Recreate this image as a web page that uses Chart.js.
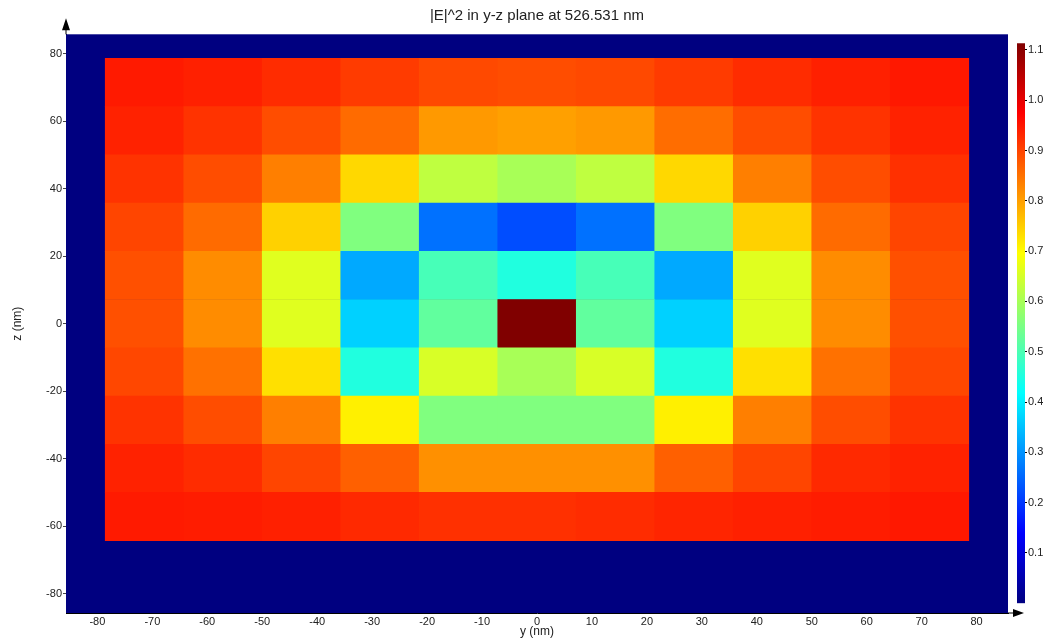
<!DOCTYPE html>
<html>
<head>
<meta charset="utf-8">
<script src="https://cdn.jsdelivr.net/npm/chart.js@4.4.1/dist/chart.umd.min.js"></script>
<style>
  html, body { margin: 0; padding: 0; background: #fff; overflow: hidden; }
  #wrap { position: relative; width: 1043px; height: 644px; overflow: hidden; }
  #map { position: absolute; left: 0; top: 0; }
  #bar { position: absolute; left: 1000px; top: 0; }
</style>
</head>
<body>
<div id="wrap">
  <canvas id="map" width="1043" height="644"></canvas>
  <canvas id="bar" width="100" height="644"></canvas>
</div>
<script>
// centres des cellules (nm)
const yCells = [-71.43, -57.14, -42.86, -28.57, -14.29, 0, 14.29, 28.57, 42.86, 57.14, 71.43];
const zCells = [71.43, 57.14, 42.86, 28.57, 14.29, 0, -14.29, -28.57, -42.86, -57.14];

// |E|^2, une ligne par rangée z (de haut en bas)
const intensity = [
    [0.946, 0.939, 0.926, 0.910, 0.894, 0.890, 0.894, 0.910, 0.926, 0.939, 0.948],
    [0.937, 0.918, 0.890, 0.857, 0.807, 0.799, 0.807, 0.855, 0.890, 0.918, 0.937],
    [0.918, 0.890, 0.835, 0.738, 0.626, 0.601, 0.626, 0.738, 0.835, 0.890, 0.922],
    [0.899, 0.857, 0.746, 0.557, 0.262, 0.223, 0.262, 0.557, 0.746, 0.857, 0.899],
    [0.887, 0.821, 0.662, 0.323, 0.495, 0.452, 0.495, 0.323, 0.662, 0.821, 0.887],
    [0.887, 0.821, 0.662, 0.367, 0.523, 1.113, 0.523, 0.367, 0.662, 0.821, 0.887],
    [0.896, 0.851, 0.729, 0.452, 0.653, 0.601, 0.653, 0.452, 0.729, 0.851, 0.896],
    [0.918, 0.890, 0.835, 0.712, 0.557, 0.557, 0.557, 0.712, 0.835, 0.890, 0.918],
    [0.937, 0.926, 0.899, 0.869, 0.817, 0.817, 0.817, 0.869, 0.899, 0.929, 0.937],
    [0.946, 0.943, 0.939, 0.929, 0.922, 0.922, 0.926, 0.934, 0.939, 0.943, 0.948]
];

const yTicks = [-80, -70, -60, -50, -40, -30, -20, -10, 0, 10, 20, 30, 40, 50, 60, 70, 80];
const zTicks = [-80, -60, -40, -20, 0, 20, 40, 60, 80];
const colorTicks = [0.1, 0.2, 0.3, 0.4, 0.5, 0.6, 0.7, 0.8, 0.9, 1.0, 1.1];
const colorMax = 1.113;
const axisMin = -85.71;
const axisMax = 85.71;

const FONT = 'Arial, "Liberation Sans", sans-serif';
const TXT = '#222';

// palette "jet"
function jet(t) {
    const f = v => Math.round(255 * Math.max(0, Math.min(1, v)));
    return 'rgb(' + f(Math.min(4 * t - 1.5, -4 * t + 4.5)) + ',' +
        f(Math.min(4 * t - 0.5, -4 * t + 3.5)) + ',' +
        f(Math.min(4 * t + 0.5, -4 * t + 2.5)) + ')';
}

// cellules -> barres flottantes
const half = Math.abs(zCells[0] - zCells[1]) / 2;
const cells = [];
const cellColors = [];
zCells.forEach((z, r) => {
    yCells.forEach((y, c) => {
        cells.push({ x: y, y: [z - half, z + half] });
        cellColors.push(jet(intensity[r][c] / colorMax));
    });
});

// fond bleu nuit de la zone de tracé
const plotBackground = {
    id: 'plotBackground',
    beforeDatasetsDraw(chart) {
        const { ctx, chartArea: a } = chart;
        ctx.save();
        ctx.fillStyle = jet(0);
        ctx.fillRect(a.left, a.top, a.right - a.left, a.bottom - a.top);
        ctx.restore();
    }
};

// flèches au bout des axes
const axisArrows = {
    id: 'axisArrows',
    afterDraw(chart) {
        const { ctx, chartArea: a } = chart;
        ctx.save();
        ctx.strokeStyle = '#000';
        ctx.fillStyle = '#000';
        ctx.lineWidth = 1;
        ctx.beginPath();
        ctx.moveTo(a.left, a.top);
        ctx.lineTo(a.left, a.top - 6);
        ctx.moveTo(a.right, a.bottom);
        ctx.lineTo(a.right + 6, a.bottom);
        ctx.stroke();
        ctx.beginPath();
        ctx.moveTo(a.left, a.top - 16);
        ctx.lineTo(a.left - 4, a.top - 4);
        ctx.lineTo(a.left + 4, a.top - 4);
        ctx.closePath();
        ctx.moveTo(a.right + 16, a.bottom);
        ctx.lineTo(a.right + 5, a.bottom - 4);
        ctx.lineTo(a.right + 5, a.bottom + 4);
        ctx.closePath();
        ctx.fill();
        ctx.restore();
    }
};

new Chart(document.getElementById('map'), {
    type: 'bar',
    data: {
        datasets: [{
            data: cells,
            backgroundColor: cellColors,
            borderWidth: 0,
            barPercentage: 1,
            categoryPercentage: 1,
            xAxisID: 'cells'
        }]
    },
    options: {
        responsive: false,
        animation: false,
        layout: { padding: { left: 0, right: 35, top: 0, bottom: 0 } },
        plugins: {
            legend: { display: false },
            tooltip: { enabled: false },
            title: {
                display: true,
                text: '|E|^2 in y-z plane at 526.531 nm',
                fullSize: false,
                color: TXT,
                font: { family: FONT, size: 15, weight: 'normal' },
                padding: { top: 7, bottom: 9.3 }
            }
        },
        scales: {
            cells: {
                type: 'linear',
                axis: 'x',
                position: 'bottom',
                display: false,
                offset: false,
                grid: { offset: false },
                min: axisMin,
                max: axisMax,
                afterBuildTicks: axis => { axis.ticks = yCells.map(v => ({ value: v })); }
            },
            x: {
                type: 'linear',
                position: 'bottom',
                offset: false,
                min: axisMin,
                max: axisMax,
                afterBuildTicks: axis => { axis.ticks = yTicks.map(v => ({ value: v })); },
                afterFit: axis => { axis.height = 31; },
                grid: { offset: false, drawOnChartArea: false, drawTicks: false },
                border: { color: '#000' },
                ticks: { color: TXT, font: { family: FONT, size: 11 }, padding: 2, maxRotation: 0, autoSkip: false },
                title: {
                    display: true,
                    text: 'y (nm)',
                    color: TXT,
                    font: { family: FONT, size: 12 },
                    padding: { top: 0, bottom: 5 }
                }
            },
            y: {
                type: 'linear',
                position: 'left',
                offset: false,
                min: axisMin,
                max: axisMax,
                afterBuildTicks: axis => { axis.ticks = zTicks.map(v => ({ value: v })); },
                afterFit: axis => { axis.width = 66; },
                grid: { drawOnChartArea: false, tickLength: 3, color: '#444' },
                border: { color: '#000' },
                ticks: { color: TXT, font: { family: FONT, size: 11 }, padding: 1, autoSkip: false },
                title: {
                    display: true,
                    text: 'z (nm)',
                    color: TXT,
                    font: { family: FONT, size: 12 },
                    padding: { top: 10, bottom: 0 }
                }
            }
        }
    },
    plugins: [plotBackground, axisArrows]
});

// barre de couleurs
new Chart(document.getElementById('bar'), {
    type: 'bar',
    data: {
        labels: ['|E|^2'],
        datasets: [{
            data: [[0, colorMax]],
            backgroundColor: ctx => {
                const area = ctx.chart.chartArea;
                if (!area) return jet(0.5);
                const g = ctx.chart.ctx.createLinearGradient(0, area.bottom, 0, area.top);
                [0, 0.125, 0.375, 0.625, 0.875, 1].forEach(t => g.addColorStop(t, jet(t)));
                return g;
            },
            borderWidth: 0,
            barPercentage: 1,
            categoryPercentage: 1
        }]
    },
    options: {
        responsive: false,
        animation: false,
        layout: { padding: { left: 17, right: 0, top: 43.3, bottom: 40.7 } },
        plugins: { legend: { display: false }, tooltip: { enabled: false } },
        scales: {
            x: { display: false },
            y: {
                position: 'right',
                min: 0,
                max: colorMax,
                z: 1,
                afterBuildTicks: axis => { axis.ticks = colorTicks.map(v => ({ value: v })); },
                afterFit: axis => { axis.width = 75; },
                grid: { color: '#000', tickLength: 2 },
                border: { display: false },
                ticks: {
                    color: TXT,
                    font: { family: FONT, size: 11 },
                    padding: 1,
                    autoSkip: false,
                    callback: v => v.toFixed(1)
                }
            }
        }
    }
});
</script>
</body>
</html>
